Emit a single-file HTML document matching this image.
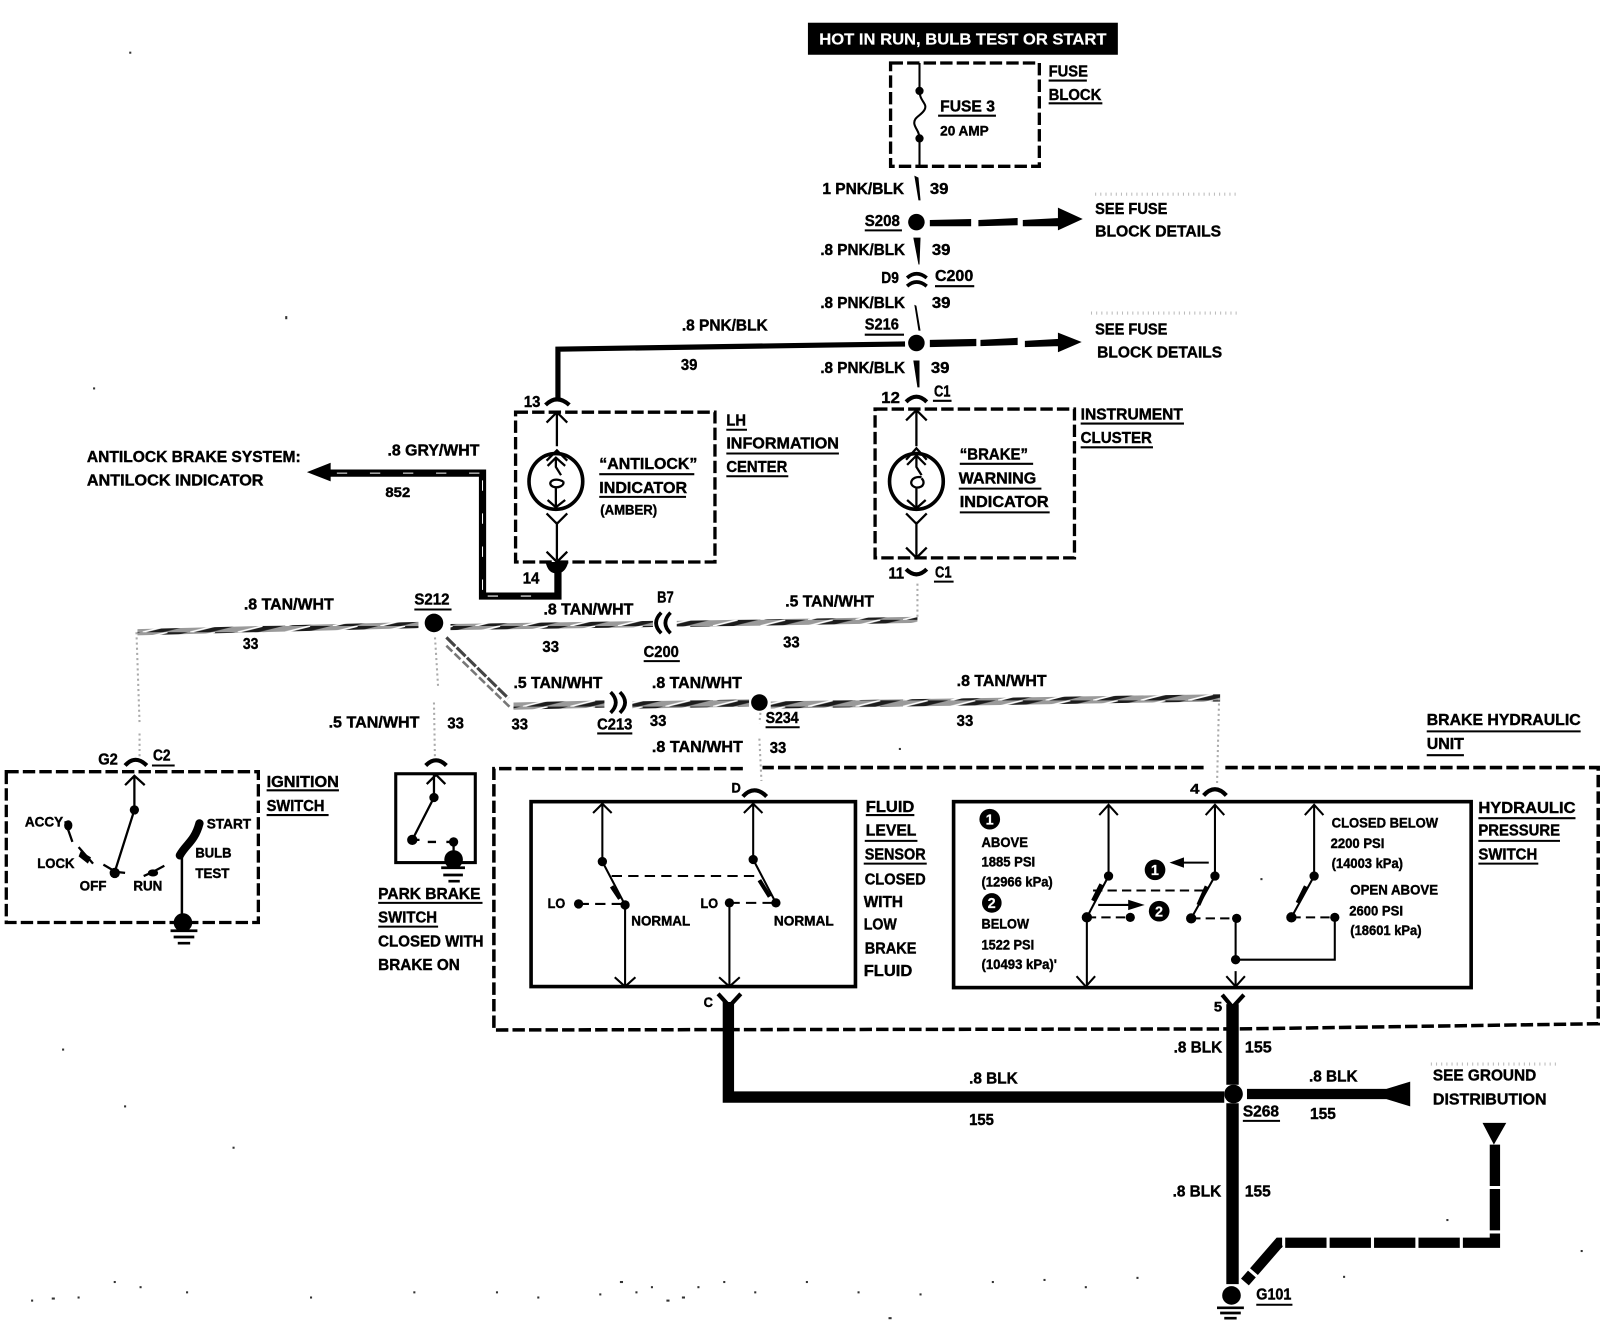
<!DOCTYPE html>
<html><head><meta charset="utf-8"><style>
html,body{margin:0;padding:0;background:#fff}
svg{display:block}
text{font-family:"Liberation Sans",sans-serif;font-weight:bold;font-size:15.5px;fill:#000;stroke:#000;stroke-width:.4px}
.s{font-size:13px}
.w{fill:#fff;stroke:#fff;stroke-width:.2px}
.k{fill:none;stroke:#000}
</style></head><body>
<svg xmlns="http://www.w3.org/2000/svg" width="1620" height="1344" viewBox="0 0 1568 1301">
<defs>
<pattern id="h" patternUnits="userSpaceOnUse" width="46" height="6"><rect width="46" height="6" fill="#9a9a9a"/><path d="M0,6 L24,0 L44,0 L20,6Z" fill="#1c1c1c"/><path d="M0,6 L24,0" stroke="#fff" stroke-width="1.6" fill="none"/></pattern>
</defs>
<rect width="1568" height="1301" fill="#fff"/>

<!-- header -->
<rect x="782" y="22" width="300" height="31" fill="#000"/>
<text class="w" x="793" y="43" textLength="278" lengthAdjust="spacingAndGlyphs">HOT IN RUN, BULB TEST OR START</text>

<!-- fuse block -->
<rect x="862" y="61" width="144" height="100" class="k" stroke-width="3.2" stroke-dasharray="12 4"/>
<path class="k" stroke-width="2" d="M890,61V88C890,98 898,100 895,106C892,112 884,113 885,120C886,125 890,127 890,134V161"/>
<circle cx="890" cy="88" r="4"/><circle cx="890" cy="134" r="4"/>
<text x="910" y="108" textLength="53" lengthAdjust="spacingAndGlyphs">FUSE 3</text><path class="k" stroke-width="2" d="M908,112H964"/>
<text class="s" x="910" y="131" textLength="47" lengthAdjust="spacingAndGlyphs">20 AMP</text>
<text x="1015" y="74" textLength="38" lengthAdjust="spacingAndGlyphs">FUSE</text><path class="k" stroke-width="2" d="M1015,78H1052"/>
<text x="1015" y="97" textLength="51" lengthAdjust="spacingAndGlyphs">BLOCK</text><path class="k" stroke-width="2" d="M1015,100H1067"/>

<!-- upper wires -->
<text x="796" y="188" textLength="79" lengthAdjust="spacingAndGlyphs">1 PNK/BLK</text><text x="900" y="188" textLength="18" lengthAdjust="spacingAndGlyphs">39</text>
<path d="M885,170L889,172L891,194L889,194Z"/>
<text x="837" y="219" textLength="34" lengthAdjust="spacingAndGlyphs">S208</text><path class="k" stroke-width="2" d="M837,223H873"/>
<circle cx="887" cy="215" r="8"/>
<path d="M900,213L940,212V219L900,219ZM947,213L985,211V218L947,219ZM990,213L1025,211V219L990,219ZM1024,201L1048,212L1024,223Z"/>
<text x="1060" y="207" textLength="70" lengthAdjust="spacingAndGlyphs">SEE FUSE</text>
<text x="1060" y="229" textLength="122" lengthAdjust="spacingAndGlyphs">BLOCK DETAILS</text>
<path class="k" stroke-width="3" stroke-dasharray="1 4" d="M1060,188H1200" style="stroke:#bbb"/>

<text x="794" y="247" textLength="82" lengthAdjust="spacingAndGlyphs">.8 PNK/BLK</text><text x="902" y="247" textLength="18" lengthAdjust="spacingAndGlyphs">39</text>
<path d="M884,230L891,230L890,256L889,256Z"/>
<text x="853" y="274" textLength="17" lengthAdjust="spacingAndGlyphs">D9</text>
<text x="905" y="272" textLength="37" lengthAdjust="spacingAndGlyphs">C200</text><path class="k" stroke-width="2" d="M905,277H943"/>
<path class="k" stroke-width="3.5" d="M878,269Q887,261 897,269M878,277Q887,269 897,277"/>

<text x="794" y="298" textLength="82" lengthAdjust="spacingAndGlyphs">.8 PNK/BLK</text><text x="902" y="298" textLength="18" lengthAdjust="spacingAndGlyphs">39</text>
<path d="M885,295L887,296L891,320L889,320Z"/>
<text x="837" y="319" textLength="33" lengthAdjust="spacingAndGlyphs">S216</text><path class="k" stroke-width="2" d="M837,324H875"/>
<circle cx="887" cy="332" r="8"/>
<path d="M900,329L945,328V335L900,336ZM949,329L985,327V334L949,335ZM992,330L1025,328V335L992,336ZM1024,322L1047,331L1024,341Z"/>
<text x="1060" y="324" textLength="70" lengthAdjust="spacingAndGlyphs">SEE FUSE</text>
<text x="1062" y="346" textLength="121" lengthAdjust="spacingAndGlyphs">BLOCK DETAILS</text>
<path class="k" stroke-width="3" stroke-dasharray="1 4" d="M1056,303H1200" style="stroke:#bbb"/>

<path class="k" stroke-width="5" d="M876,333L800,334L540,338V385"/>
<text x="660" y="320" textLength="83" lengthAdjust="spacingAndGlyphs">.8 PNK/BLK</text>
<text x="659" y="358" textLength="16" lengthAdjust="spacingAndGlyphs">39</text>
<text x="794" y="361" textLength="82" lengthAdjust="spacingAndGlyphs">.8 PNK/BLK</text><text x="901" y="361" textLength="18" lengthAdjust="spacingAndGlyphs">39</text>
<path d="M884,349L890,349L890,375L888,375Z"/>
<text x="853" y="390" textLength="18" lengthAdjust="spacingAndGlyphs">12</text>
<text x="904" y="384" textLength="16" lengthAdjust="spacingAndGlyphs">C1</text><path class="k" stroke-width="2" d="M903,388H921"/>
<path class="k" stroke-width="4" d="M877,389Q887,379 897,389"/>

<!-- Instrument cluster -->
<rect x="847" y="396" width="193" height="144" class="k" stroke-width="3.2" stroke-dasharray="12 4"/>
<g class="k" stroke-width="2.2" fill="none" stroke="#000">
<path d="M877,407L887,397L897,407M887,397V432M877,445L887,434L897,445"/>
<ellipse cx="887" cy="466" rx="26" ry="27" stroke-width="3.5"/>
<path d="M878,450L887,441L896,450M887,441V452L892,460M892,462C882,460 878,470 887,472C895,472 895,466 892,463M887,472V492M878,484L887,492L896,484"/>
<path d="M877,497L887,507L897,497M887,505V540M877,530L887,540L897,530"/>
</g>
<path class="k" stroke-width="4" d="M877,551Q887,561 897,551"/>
<text x="860" y="560" textLength="15" lengthAdjust="spacingAndGlyphs">11</text>
<text x="905" y="559" textLength="16" lengthAdjust="spacingAndGlyphs">C1</text><path class="k" stroke-width="2" d="M904,563H923"/>
<text x="929" y="445" textLength="66" lengthAdjust="spacingAndGlyphs">“BRAKE”</text><path class="k" stroke-width="2" d="M929,449H1000"/>
<text x="928" y="468" textLength="75" lengthAdjust="spacingAndGlyphs">WARNING</text><path class="k" stroke-width="2" d="M928,473H1008"/>
<text x="929" y="491" textLength="86" lengthAdjust="spacingAndGlyphs">INDICATOR</text><path class="k" stroke-width="2" d="M929,496H1016"/>
<text x="1046" y="406" textLength="99" lengthAdjust="spacingAndGlyphs">INSTRUMENT</text><path class="k" stroke-width="2" d="M1046,410H1146"/>
<text x="1046" y="429" textLength="69" lengthAdjust="spacingAndGlyphs">CLUSTER</text><path class="k" stroke-width="2" d="M1046,433H1116"/>

<!-- LH info center -->
<rect x="499" y="399" width="193" height="145" class="k" stroke-width="3.2" stroke-dasharray="12 4"/>
<g class="k" stroke-width="2.2" fill="none" stroke="#000">
<path d="M529,409L539,399L549,409M539,399V432M529,446L539,436L549,446"/>
<ellipse cx="538" cy="466" rx="26" ry="27" stroke-width="3.5"/>
<path d="M530,451L538,443L547,451M538,443V452L543,460M545,466C535,461 529,468 535,471C540,473 547,470 545,466M538,472V491M530,484L538,491L547,484"/>
<path d="M529,497L539,507L549,497M539,505V542M529,534L539,544L549,534"/>
</g>
<path d="M528,544H550C548,552 544,555 539,555C533,555 530,552 528,544Z"/>
<path class="k" stroke-width="4" d="M528,392Q539,381 551,392"/>
<text x="507" y="394" textLength="16" lengthAdjust="spacingAndGlyphs">13</text>
<text x="506" y="565" textLength="16" lengthAdjust="spacingAndGlyphs">14</text>
<text x="580" y="454" textLength="95" lengthAdjust="spacingAndGlyphs">“ANTILOCK”</text><path class="k" stroke-width="2" d="M580,459H672"/>
<text x="580" y="477" textLength="85" lengthAdjust="spacingAndGlyphs">INDICATOR</text><path class="k" stroke-width="2" d="M580,481H664"/>
<text class="s" x="581" y="498" textLength="55" lengthAdjust="spacingAndGlyphs">(AMBER)</text>
<text x="703" y="412" textLength="19" lengthAdjust="spacingAndGlyphs">LH</text><path class="k" stroke-width="2" d="M703,416H723"/>
<text x="703" y="434" textLength="109" lengthAdjust="spacingAndGlyphs">INFORMATION</text><path class="k" stroke-width="2" d="M703,439H812"/>
<text x="703" y="457" textLength="59" lengthAdjust="spacingAndGlyphs">CENTER</text><path class="k" stroke-width="2" d="M703,461H763"/>

<!-- Gray wire -->
<path class="k" stroke-width="7" d="M318,458H467V577H540V552"/>
<path class="k" style="stroke:#fff" stroke-width="1" stroke-dasharray="10 22" d="M326,458H466M467,465V574M472,577H536"/>
<path d="M297,457L320,448V466Z"/>
<text x="84" y="447" textLength="207" lengthAdjust="spacingAndGlyphs">ANTILOCK BRAKE SYSTEM:</text>
<text x="84" y="470" textLength="171" lengthAdjust="spacingAndGlyphs">ANTILOCK INDICATOR</text>
<text x="375" y="441" textLength="89" lengthAdjust="spacingAndGlyphs">.8 GRY/WHT</text>
<text x="373" y="481" textLength="24" class="s" lengthAdjust="spacingAndGlyphs">852</text>

<!-- Tan wires -->
<path d="M133,609L405,602V608L133,615Z" fill="url(#h)"/>
<path d="M436,604L632,601V607L436,610Z" fill="url(#h)"/>
<path d="M655,601L888,597V603L655,607Z" fill="url(#h)"/>
<path d="M497,680L585,678V685L497,687Z" fill="url(#h)"/>
<path d="M612,679L725,677V684L612,686Z" fill="url(#h)"/>
<path d="M746,679L1181,672V679L746,686Z" fill="url(#h)"/>
<g class="k" fill="none">
<path d="M432,617L492,676" style="stroke:#444" stroke-width="3" stroke-dasharray="12 2"/>
<path d="M432,625L495,686" style="stroke:#777" stroke-width="2.5" stroke-dasharray="8 3"/>
</g>
<g class="k" stroke-width="2" style="stroke:#aaa" stroke-dasharray="2 3">
<path d="M888,565V600M132,612L135,700M135,710V735M421,617L424,665M420,680L421,738M736,690L735,700M735,715L737,756M1180,676L1178,760"/>
</g>
<circle cx="420" cy="603" r="9"/><circle cx="735" cy="680" r="8"/>
<text x="401" y="585" textLength="34" lengthAdjust="spacingAndGlyphs">S212</text><path class="k" stroke-width="2" d="M401,590H437"/>
<text x="236" y="590" textLength="87" lengthAdjust="spacingAndGlyphs">.8 TAN/WHT</text><text x="235" y="628" textLength="15" lengthAdjust="spacingAndGlyphs">33</text>
<text x="526" y="595" textLength="87" lengthAdjust="spacingAndGlyphs">.8 TAN/WHT</text><text x="525" y="631" textLength="16" lengthAdjust="spacingAndGlyphs">33</text>
<text x="636" y="583" textLength="16" lengthAdjust="spacingAndGlyphs">B7</text>
<text x="623" y="636" textLength="34" lengthAdjust="spacingAndGlyphs">C200</text><path class="k" stroke-width="2" d="M623,640H658"/>
<path class="k" stroke-width="3.5" d="M640,593Q630,603 640,613M649,593Q639,603 649,613"/>
<text x="760" y="587" textLength="86" lengthAdjust="spacingAndGlyphs">.5 TAN/WHT</text><text x="758" y="627" textLength="16" lengthAdjust="spacingAndGlyphs">33</text>
<text x="497" y="666" textLength="86" lengthAdjust="spacingAndGlyphs">.5 TAN/WHT</text><text x="495" y="706" textLength="16" lengthAdjust="spacingAndGlyphs">33</text>
<path class="k" stroke-width="3.5" d="M591,670Q601,680 591,690M600,670Q610,680 600,690"/>
<text x="578" y="706" textLength="34" lengthAdjust="spacingAndGlyphs">C213</text><path class="k" stroke-width="2" d="M578,710H612"/>
<text x="631" y="666" textLength="87" lengthAdjust="spacingAndGlyphs">.8 TAN/WHT</text><text x="629" y="703" textLength="16" lengthAdjust="spacingAndGlyphs">33</text>
<text x="741" y="700" textLength="32" lengthAdjust="spacingAndGlyphs">S234</text><path class="k" stroke-width="2" d="M741,704H774"/>
<text x="926" y="664" textLength="87" lengthAdjust="spacingAndGlyphs">.8 TAN/WHT</text><text x="926" y="703" textLength="16" lengthAdjust="spacingAndGlyphs">33</text>
<text x="631" y="728" textLength="88" lengthAdjust="spacingAndGlyphs">.8 TAN/WHT</text><text x="745" y="729" textLength="16" lengthAdjust="spacingAndGlyphs">33</text>
<text x="318" y="704" textLength="88" lengthAdjust="spacingAndGlyphs">.5 TAN/WHT</text><text x="433" y="705" textLength="16" lengthAdjust="spacingAndGlyphs">33</text>

<!-- Ignition -->
<rect x="6" y="747" width="244" height="146" class="k" stroke-width="3.2" stroke-dasharray="12 4"/>
<path class="k" stroke-width="4" d="M121,741Q131,730 142,741"/>
<text x="95" y="740" textLength="19" lengthAdjust="spacingAndGlyphs">G2</text>
<text x="148" y="736" textLength="17" lengthAdjust="spacingAndGlyphs">C2</text><path class="k" stroke-width="2" d="M147,741H169"/>
<g class="k" stroke-width="2.2" fill="none" stroke="#000"><path d="M121,760L130,751L140,760M130,751V784L111,844"/><path d="M100,837L112,844L121,845M139,848L148,844L159,838M63,795L70,815M76,820L90,836"/></g>
<path d="M70,799A4,5 0 1 1 62,799A4,5 0 1 1 70,799Z"/>
<circle cx="130" cy="784" r="4.5"/><circle cx="111" cy="845" r="5"/>
<path d="M78,824L88,830L85,836L76,829Z"/><ellipse cx="148" cy="845" rx="5" ry="3.5"/>
<path class="k" stroke-width="8" stroke-linecap="round" d="M193,797C188,815 180,817 174,828"/>
<path class="k" stroke-width="2.4" d="M176,828V888"/>
<circle cx="177" cy="893" r="9"/>
<path class="k" stroke-width="2.6" d="M165,901H191M168,907H188M172,913H184"/>
<text class="s" x="24" y="800" textLength="37" lengthAdjust="spacingAndGlyphs">ACCY</text>
<text class="s" x="36" y="840" textLength="36" lengthAdjust="spacingAndGlyphs">LOCK</text>
<text class="s" x="77" y="862" textLength="26" lengthAdjust="spacingAndGlyphs">OFF</text>
<text class="s" x="129" y="862" textLength="28" lengthAdjust="spacingAndGlyphs">RUN</text>
<text class="s" x="200" y="802" textLength="43" lengthAdjust="spacingAndGlyphs">START</text>
<text class="s" x="189" y="830" textLength="35" lengthAdjust="spacingAndGlyphs">BULB</text>
<text class="s" x="189" y="850" textLength="33" lengthAdjust="spacingAndGlyphs">TEST</text>
<text x="258" y="762" textLength="70" lengthAdjust="spacingAndGlyphs">IGNITION</text><path class="k" stroke-width="2" d="M258,765H328"/>
<text x="258" y="785" textLength="56" lengthAdjust="spacingAndGlyphs">SWITCH</text><path class="k" stroke-width="2" d="M258,789H318"/>

<!-- Park brake -->
<rect x="383" y="749" width="77" height="86" class="k" stroke-width="3"/>
<path class="k" stroke-width="4" d="M412,741Q422,731 432,741"/>
<g class="k" stroke-width="2.2" fill="none" stroke="#000"><path d="M413,759L422,750L431,759M420,750V772L399,813"/><path d="M399,813H406M414,815H422M432,815H439V832" /></g>
<circle cx="420" cy="772" r="4.5"/><circle cx="399" cy="813" r="5"/><circle cx="439" cy="815" r="4.5"/>
<circle cx="439" cy="832" r="9"/>
<path class="k" stroke-width="2.6" d="M427,840H450M429,847H448M434,853H445"/>
<text x="366" y="870" textLength="99" lengthAdjust="spacingAndGlyphs">PARK BRAKE</text><path class="k" stroke-width="2" d="M366,874H467"/>
<text x="366" y="893" textLength="57" lengthAdjust="spacingAndGlyphs">SWITCH</text><path class="k" stroke-width="2" d="M366,897H424"/>
<text x="366" y="916" textLength="102" lengthAdjust="spacingAndGlyphs">CLOSED WITH</text>
<text x="366" y="939" textLength="79" lengthAdjust="spacingAndGlyphs">BRAKE ON</text>

<!-- Brake hydraulic unit -->
<path class="k" stroke-width="3.4" stroke-dasharray="12 4" d="M719,744H478V997L1200,996L1547,991V743H1185M1165,743H738"/>
<text x="1381" y="702" textLength="149" lengthAdjust="spacingAndGlyphs">BRAKE HYDRAULIC</text><path class="k" stroke-width="2" d="M1381,708H1530"/>
<text x="1381" y="725" textLength="36" lengthAdjust="spacingAndGlyphs">UNIT</text><path class="k" stroke-width="2" d="M1381,731H1417"/>

<!-- Fluid level -->
<rect x="514" y="776" width="314" height="179" class="k" stroke-width="3.5"/>
<path class="k" stroke-width="4" d="M719,771Q730,759 742,771"/>
<text x="708" y="767" class="s" textLength="9" lengthAdjust="spacingAndGlyphs">D</text>
<g class="k" stroke-width="2" fill="none" stroke="#000">
<path d="M574,787L583,778L592,787M583,778V834L605,876V955M595,946L605,955L615,946"/>
<path d="M720,787L729,778L738,787M729,778V832L751,874M706,874V955M696,946L706,955L716,946"/>
<path stroke-dasharray="10 6" d="M592,848H734M560,875H605M706,874H751"/>
</g>
<path class="k" stroke-width="4" d="M592,858L600,870M735,852L745,868"/>
<circle cx="583" cy="834" r="4.5"/><circle cx="605" cy="876" r="4.5"/><circle cx="560" cy="875" r="4.5"/>
<circle cx="729" cy="832" r="4.5"/><circle cx="751" cy="874" r="4.5"/><circle cx="706" cy="874" r="4.5"/>
<text class="s" x="530" y="879" textLength="17" lengthAdjust="spacingAndGlyphs">LO</text>
<text class="s" x="678" y="879" textLength="17" lengthAdjust="spacingAndGlyphs">LO</text>
<text class="s" x="611" y="896" textLength="57" lengthAdjust="spacingAndGlyphs">NORMAL</text>
<text class="s" x="749" y="896" textLength="58" lengthAdjust="spacingAndGlyphs">NORMAL</text>
<text x="838" y="786" textLength="47" lengthAdjust="spacingAndGlyphs">FLUID</text><path class="k" stroke-width="2" d="M838,789H885"/>
<text x="838" y="809" textLength="49" lengthAdjust="spacingAndGlyphs">LEVEL</text><path class="k" stroke-width="2" d="M837,814H888"/>
<text x="837" y="832" textLength="59" lengthAdjust="spacingAndGlyphs">SENSOR</text><path class="k" stroke-width="2" d="M836,836H897"/>
<text x="837" y="856" textLength="59" lengthAdjust="spacingAndGlyphs">CLOSED</text>
<text x="836" y="878" textLength="38" lengthAdjust="spacingAndGlyphs">WITH</text>
<text x="836" y="900" textLength="32" lengthAdjust="spacingAndGlyphs">LOW</text>
<text x="837" y="923" textLength="50" lengthAdjust="spacingAndGlyphs">BRAKE</text>
<text x="836" y="945" textLength="47" lengthAdjust="spacingAndGlyphs">FLUID</text>

<!-- Pressure switch -->
<rect x="923" y="776" width="501" height="180" class="k" stroke-width="3.5"/>
<path class="k" stroke-width="4" d="M1165,770Q1176,758 1187,770"/>
<text class="s" x="1152" y="768" textLength="9" lengthAdjust="spacingAndGlyphs">4</text>
<g class="k" stroke-width="2" fill="none" stroke="#000">
<path d="M1064,789L1073,779L1082,789M1073,779V848L1052,888V955M1042,945L1051,955L1060,945"/>
<path d="M1167,789L1176,779L1185,789M1176,779V848L1153,889"/>
<path d="M1263,789L1272,779L1281,789M1272,779V848L1250,888"/>
<path d="M1196,889V929H1292V889M1196,940V955M1187,945L1196,955L1205,945"/>
<path stroke-dasharray="9 5" d="M1052,888H1094M1153,889H1197M1250,888H1292M1058,862H1165"/>
<path d="M1140,835H1170M1063,876H1095"/>
</g>
<path class="k" stroke-width="4" d="M1058,872L1066,856M1160,876L1168,858M1256,874L1264,858"/>
<path d="M1132,835L1146,830V840ZM1108,876L1092,871V881Z"/>
<circle cx="1073" cy="848" r="4.5"/><circle cx="1052" cy="888" r="5"/><circle cx="1094" cy="888" r="4.5"/>
<circle cx="1176" cy="848" r="4.5"/><circle cx="1153" cy="889" r="5"/><circle cx="1197" cy="889" r="4.5"/>
<circle cx="1272" cy="848" r="4.5"/><circle cx="1250" cy="888" r="5"/><circle cx="1292" cy="888" r="4.5"/>
<circle cx="1196" cy="929" r="4.5"/>
<circle cx="958" cy="793" r="10"/><text class="w" x="954" y="798" style="font-size:14px">1</text>
<circle cx="960" cy="874" r="9.5"/><text class="w" x="956" y="879" style="font-size:14px">2</text>
<circle cx="1118" cy="842" r="10"/><text class="w" x="1114" y="847" style="font-size:14px">1</text>
<circle cx="1122" cy="882" r="10"/><text class="w" x="1118" y="887" style="font-size:14px">2</text>
<text class="s" x="950" y="820" textLength="45" lengthAdjust="spacingAndGlyphs">ABOVE</text>
<text class="s" x="950" y="839" textLength="52" lengthAdjust="spacingAndGlyphs">1885 PSI</text>
<text class="s" x="950" y="858" textLength="69" lengthAdjust="spacingAndGlyphs">(12966 kPa)</text>
<text class="s" x="950" y="899" textLength="46" lengthAdjust="spacingAndGlyphs">BELOW</text>
<text class="s" x="950" y="919" textLength="51" lengthAdjust="spacingAndGlyphs">1522 PSI</text>
<text class="s" x="950" y="938" textLength="73" lengthAdjust="spacingAndGlyphs">(10493 kPa)'</text>
<text class="s" x="1289" y="801" textLength="103" lengthAdjust="spacingAndGlyphs">CLOSED BELOW</text>
<text class="s" x="1288" y="821" textLength="52" lengthAdjust="spacingAndGlyphs">2200 PSI</text>
<text class="s" x="1289" y="840" textLength="69" lengthAdjust="spacingAndGlyphs">(14003 kPa)</text>
<text class="s" x="1307" y="866" textLength="85" lengthAdjust="spacingAndGlyphs">OPEN ABOVE</text>
<text class="s" x="1306" y="886" textLength="52" lengthAdjust="spacingAndGlyphs">2600 PSI</text>
<text class="s" x="1307" y="905" textLength="69" lengthAdjust="spacingAndGlyphs">(18601 kPa)</text>
<text x="1431" y="787" textLength="94" lengthAdjust="spacingAndGlyphs">HYDRAULIC</text><path class="k" stroke-width="2" d="M1431,792H1525"/>
<text x="1431" y="809" textLength="79" lengthAdjust="spacingAndGlyphs">PRESSURE</text><path class="k" stroke-width="2" d="M1431,814H1510"/>
<text x="1431" y="832" textLength="57" lengthAdjust="spacingAndGlyphs">SWITCH</text><path class="k" stroke-width="2" d="M1431,836H1489"/>

<!-- Black wires -->
<path class="k" stroke-width="11" d="M705,970V1062H1185"/>
<path class="k" stroke-width="4" d="M695,962L706,974L717,962M1183,963L1193,975L1204,963"/>
<text class="s" x="681" y="975" textLength="9" lengthAdjust="spacingAndGlyphs">C</text>
<text class="s" x="1175" y="979" textLength="8" lengthAdjust="spacingAndGlyphs">5</text>
<path class="k" stroke-width="12" d="M1193,972V1050M1193,1068V1243"/>
<circle cx="1194" cy="1059" r="9"/>
<path d="M1207,1054H1342L1365,1047V1071L1342,1064H1207Z"/>
<text x="1136" y="1019" textLength="47" lengthAdjust="spacingAndGlyphs">.8 BLK</text><text x="1205" y="1019" textLength="26" lengthAdjust="spacingAndGlyphs">155</text>
<text x="938" y="1049" textLength="47" lengthAdjust="spacingAndGlyphs">.8 BLK</text><text x="938" y="1089" textLength="24" lengthAdjust="spacingAndGlyphs">155</text>
<text x="1267" y="1047" textLength="47" lengthAdjust="spacingAndGlyphs">.8 BLK</text><text x="1268" y="1083" textLength="25" lengthAdjust="spacingAndGlyphs">155</text>
<text x="1135" y="1158" textLength="47" lengthAdjust="spacingAndGlyphs">.8 BLK</text><text x="1205" y="1158" textLength="25" lengthAdjust="spacingAndGlyphs">155</text>
<text x="1203" y="1081" textLength="35" lengthAdjust="spacingAndGlyphs">S268</text><path class="k" stroke-width="2" d="M1203,1085H1239"/>
<text x="1387" y="1046" textLength="100" lengthAdjust="spacingAndGlyphs">SEE GROUND</text>
<text x="1387" y="1069" textLength="110" lengthAdjust="spacingAndGlyphs">DISTRIBUTION</text>
<path class="k" stroke-width="3" stroke-dasharray="1 4" d="M1385,1030H1510" style="stroke:#bbb"/>
<path d="M1435,1087H1458L1446,1108Z"/>
<path class="k" stroke-width="10" d="M1447,1108V1203H1238L1205,1241" stroke-dasharray="40 3"/>
<circle cx="1192" cy="1254" r="9"/>
<path class="k" stroke-width="2.6" d="M1178,1266H1204M1181,1271H1201M1185,1276H1197"/>
<text x="1216" y="1258" textLength="34" lengthAdjust="spacingAndGlyphs">G101</text><path class="k" stroke-width="2" d="M1216,1263H1251"/>

<!-- specks -->
<g fill="#333">
<rect x="125" y="50" width="2" height="2"/><rect x="90" y="375" width="2" height="2"/><rect x="276" y="306" width="2" height="3"/><rect x="60" y="1015" width="2" height="2"/><rect x="120" y="1070" width="2" height="2"/><rect x="225" y="1110" width="2" height="2"/><rect x="600" y="1240" width="3" height="2"/><rect x="660" y="1255" width="3" height="2"/><rect x="630" y="1245" width="2" height="2"/><rect x="700" y="1240" width="2" height="2"/><rect x="860" y="1275" width="3" height="2"/><rect x="50" y="1256" width="3" height="2"/><rect x="110" y="1240" width="2" height="2"/><rect x="300" y="1255" width="2" height="2"/><rect x="480" y="1250" width="2" height="2"/><rect x="780" y="1240" width="2" height="2"/><rect x="960" y="1240" width="2" height="2"/><rect x="1050" y="1245" width="2" height="2"/><rect x="1300" y="1235" width="2" height="2"/><rect x="1400" y="1180" width="2" height="2"/><rect x="870" y="724" width="2" height="2"/><rect x="1220" y="850" width="2" height="2"/><rect x="1530" y="1210" width="2" height="2"/>
<rect x="615" y="1250" width="2" height="2"/><rect x="645" y="1258" width="3" height="2"/><rect x="675" y="1245" width="2" height="2"/><rect x="580" y="1252" width="2" height="2"/><rect x="730" y="1250" width="2" height="2"/><rect x="830" y="1250" width="2" height="2"/><rect x="890" y="1252" width="2" height="2"/><rect x="1010" y="1238" width="2" height="2"/><rect x="1100" y="1236" width="2" height="2"/><rect x="30" y="1258" width="2" height="2"/><rect x="75" y="1255" width="2" height="2"/><rect x="135" y="1245" width="2" height="2"/><rect x="180" y="1250" width="2" height="2"/><rect x="400" y="1250" width="2" height="2"/><rect x="520" y="1255" width="2" height="2"/>
</g>
</svg>
</body></html>
